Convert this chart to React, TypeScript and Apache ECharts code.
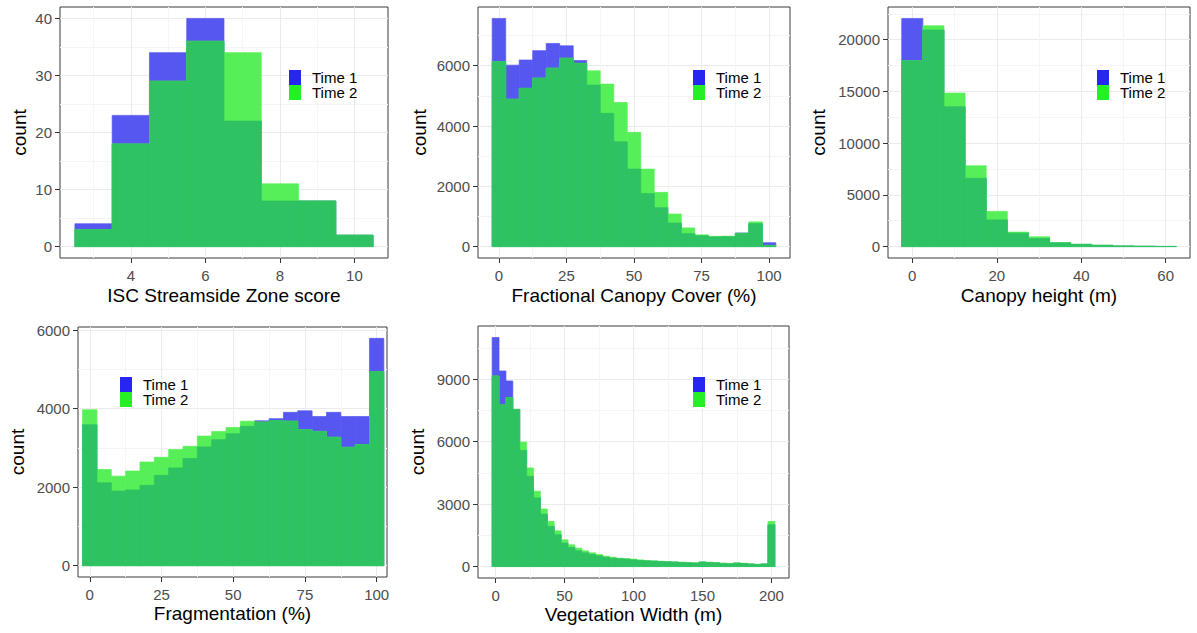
import React, { useEffect, useRef } from 'react';
import * as echarts from 'echarts';

// ---------- data ----------
const iscCenters = [3, 4, 5, 6, 7, 8, 9, 10];
const iscTime1 = [4, 23, 34, 40, 22, 8, 8, 2];
const iscTime2 = [3, 18, 29, 36, 34, 11, 8, 2];

const fccCenters = [0, 5, 10, 15, 20, 25, 30, 35, 40, 45, 50, 55, 60, 65, 70, 75, 80, 85, 90, 95, 100];
const fccTime1 = [7570, 6020, 6190, 6500, 6740, 6660, 6170, 5360, 4420, 3480, 2570, 1760, 1290, 780, 430, 360, 320, 330, 450, 760, 130];
const fccTime2 = [6140, 4890, 5250, 5590, 5920, 6250, 6080, 5830, 5390, 4780, 3790, 2570, 1800, 1080, 620, 390, 340, 345, 440, 820, 40];

const chCenters = [0, 5, 10, 15, 20, 25, 30, 35, 40, 45, 50, 55, 60];
const chTime1 = [22060, 20940, 13520, 6610, 2580, 1300, 780, 360, 210, 120, 60, 30, 15];
const chTime2 = [17970, 21350, 14840, 7810, 3400, 1400, 950, 390, 230, 130, 65, 30, 15];

const fragCenters = [0, 5, 10, 15, 20, 25, 30, 35, 40, 45, 50, 55, 60, 65, 70, 75, 80, 85, 90, 95, 100];
const fragTime1 = [3590, 2110, 1900, 1930, 2045, 2300, 2490, 2730, 3025, 3210, 3360, 3550, 3690, 3745, 3905, 3945, 3800, 3905, 3800, 3800, 5790];
const fragTime2 = [3970, 2450, 2280, 2410, 2640, 2760, 2960, 3040, 3300, 3420, 3520, 3680, 3660, 3695, 3680, 3465, 3420, 3270, 3015, 3085, 4945];

const vwCenters = [0, 5, 10, 15, 20, 25, 30, 35, 40, 45, 50, 55, 60, 65, 70, 75, 80, 85, 90, 95, 100, 105, 110, 115, 120, 125, 130, 135, 140, 145, 150, 155, 160, 165, 170, 175, 180, 185, 190, 195, 200];
const vwTime1 = [11010, 9400, 8920, 7550, 5580, 4340, 3300, 2520, 1930, 1530, 1125, 915, 755, 660, 580, 515, 450, 400, 370, 355, 320, 290, 270, 255, 240, 225, 210, 195, 178, 160, 210, 195, 175, 150, 135, 160, 145, 120, 100, 120, 2010];
const vwTime2 = [9160, 7770, 8120, 7560, 5980, 4740, 3620, 2765, 2170, 1720, 1285, 1045, 885, 755, 660, 580, 500, 450, 400, 385, 355, 320, 290, 270, 255, 240, 225, 210, 195, 178, 225, 210, 190, 160, 145, 178, 160, 130, 110, 130, 2170];

const seriesNames = ['Time 1', 'Time 2'];

const iscXTicks = [4, 6, 8, 10];
const iscXMinor = [3, 5, 7, 9];
const iscYTicks = [0, 10, 20, 30, 40];
const iscYMinor = [5, 15, 25, 35];

const pctXTicks = [0, 25, 50, 75, 100];
const pctXMinor = [12.5, 37.5, 62.5, 87.5];

const fccYTicks = [0, 2000, 4000, 6000];
const fccYMinor = [1000, 3000, 5000, 7000];

const chXTicks = [0, 20, 40, 60];
const chXMinor = [10, 30, 50];
const chYTicks = [0, 5000, 10000, 15000, 20000];
const chYMinor = [2500, 7500, 12500, 17500, 22500];

const fragYTicks = [0, 2000, 4000, 6000];
const fragYMinor = [1000, 3000, 5000];

const vwXTicks = [0, 50, 100, 150, 200];
const vwXMinor = [25, 75, 125, 175];
const vwYTicks = [0, 3000, 6000, 9000];
const vwYMinor = [1500, 4500, 7500, 10500];

// ---------- styles ----------
const FONT = 'Liberation Sans, Arial, Helvetica, sans-serif';
const BLUE_ONLY = '#5656f1';
const GREEN_ONLY = '#57ef57';
const OVERLAP = '#2ec263';
const LEG_BLUE = '#2626f0';
const LEG_GREEN = '#26ef26';

type Panel = {
  centers: number[];
  binWidth: number;
  t1: number[];
  t2: number[];
  xTitle: string;
  xTicks: number[];
  xMinor: number[];
  yTicks: number[];
  yMinor: number[];
  grid: { left: number; top: number; width: number; height: number };
  legend: { left: number; top: number };
  yNameGap: number;
  xNameGap: number;
  xRange?: [number, number];
};

const panels: Panel[] = [
  {
    centers: iscCenters, binWidth: 1, t1: iscTime1, t2: iscTime2,
    xTitle: 'ISC Streamside Zone score', xTicks: iscXTicks, xMinor: iscXMinor,
    yTicks: iscYTicks, yMinor: iscYMinor,
    grid: { left: 60, top: 7, width: 328, height: 251 },
    legend: { left: 289, top: 70 }, yNameGap: 31, xNameGap: 28,
  },
  {
    centers: fccCenters, binWidth: 5, t1: fccTime1, t2: fccTime2,
    xTitle: 'Fractional Canopy Cover (%)', xTicks: pctXTicks, xMinor: pctXMinor,
    yTicks: fccYTicks, yMinor: fccYMinor,
    grid: { left: 478, top: 7, width: 312, height: 251 },
    legend: { left: 693, top: 70 }, yNameGap: 49, xNameGap: 28,
  },
  {
    centers: chCenters, binWidth: 5, t1: chTime1, t2: chTime2,
    xTitle: 'Canopy height (m)', xTicks: chXTicks, xMinor: chXMinor,
    yTicks: chYTicks, yMinor: chYMinor,
    grid: { left: 888, top: 7, width: 302, height: 251 },
    legend: { left: 1097, top: 70 }, yNameGap: 60, xNameGap: 28,
  },
  {
    centers: fragCenters, binWidth: 5, t1: fragTime1, t2: fragTime2,
    xTitle: 'Fragmentation (%)', xTicks: pctXTicks, xMinor: pctXMinor,
    yTicks: fragYTicks, yMinor: fragYMinor,
    grid: { left: 78, top: 327, width: 309, height: 250 },
    legend: { left: 120, top: 377 }, yNameGap: 51, xNameGap: 27,
    xRange: [-4.1, 103.6],
  },
  {
    centers: vwCenters, binWidth: 5, t1: vwTime1, t2: vwTime2,
    xTitle: 'Vegetation Width (m)', xTicks: vwXTicks, xMinor: vwXMinor,
    yTicks: vwYTicks, yMinor: vwYMinor,
    grid: { left: 478, top: 326, width: 311, height: 252 },
    legend: { left: 693, top: 377 }, yNameGap: 51, xNameGap: 27,
  },
];

function makeRender(color: string) {
  return (params: any, api: any) => {
    const topLeft = api.coord([api.value(0), api.value(2)]);
    const bottomRight = api.coord([api.value(1), 0]);
    return {
      type: 'rect',
      shape: {
        x: topLeft[0],
        y: topLeft[1],
        width: bottomRight[0] - topLeft[0],
        height: bottomRight[1] - topLeft[1],
      },
      style: { fill: color, stroke: color, lineWidth: 0.7 },
    };
  };
}

function buildOption() {
  const grid: any[] = [];
  const xAxis: any[] = [];
  const yAxis: any[] = [];
  const series: any[] = [];
  const legend: any[] = [];

  panels.forEach((p, i) => {
    grid.push({
      ...p.grid,
      show: true,
      borderColor: '#3a3a3a',
      borderWidth: 1,
      backgroundColor: 'transparent',
      containLabel: false,
      outerBoundsMode: 'none',
    });
    const lo = p.centers[0] - p.binWidth / 2;
    const hi = p.centers[p.centers.length - 1] + p.binWidth / 2;
    const xr = p.xRange || [lo - 0.05 * (hi - lo), hi + 0.05 * (hi - lo)];
    const ymax = Math.max(...p.t1, ...p.t2);
    const yr = [-0.05 * ymax, 1.05 * ymax];

    xAxis.push({
      type: 'value', gridIndex: i, min: xr[0], max: xr[1], position: 'bottom',
      axisLine: { show: false, onZero: false },
      axisTick: { show: true, length: 5, lineStyle: { color: '#333', width: 1 }, customValues: p.xTicks },
      axisLabel: {
        customValues: p.xTicks, formatter: (v: number) => String(v),
        color: '#4d4d4d', fontSize: 15, margin: 10, fontFamily: FONT,
      },
      splitLine: { show: true, lineStyle: { color: '#ebebeb', width: 1 } },
      name: p.xTitle, nameLocation: 'middle', nameGap: p.xNameGap,
      nameTextStyle: { fontSize: 19, color: '#000', fontFamily: FONT },
    });
    xAxis.push({
      type: 'value', gridIndex: i, min: xr[0], max: xr[1], position: 'top',
      axisLine: { show: false, onZero: false },
      axisTick: { show: false, customValues: p.xMinor },
      axisLabel: { show: false, customValues: p.xMinor },
      splitLine: { show: true, lineStyle: { color: '#f5f5f5', width: 1 } },
    });
    yAxis.push({
      type: 'value', gridIndex: i, min: yr[0], max: yr[1], position: 'left',
      axisLine: { show: false, onZero: false },
      axisTick: { show: true, length: 5, lineStyle: { color: '#333', width: 1 }, customValues: p.yTicks },
      axisLabel: {
        customValues: p.yTicks, formatter: (v: number) => String(v),
        color: '#4d4d4d', fontSize: 15, margin: 8, fontFamily: FONT,
      },
      splitLine: { show: true, lineStyle: { color: '#ebebeb', width: 1 } },
      name: 'count', nameLocation: 'middle', nameGap: p.yNameGap, nameRotate: 90,
      nameTextStyle: { fontSize: 19, color: '#000', fontFamily: FONT },
    });
    yAxis.push({
      type: 'value', gridIndex: i, min: yr[0], max: yr[1], position: 'right',
      axisLine: { show: false, onZero: false },
      axisTick: { show: false, customValues: p.yMinor },
      axisLabel: { show: false, customValues: p.yMinor },
      splitLine: { show: true, lineStyle: { color: '#f5f5f5', width: 1 } },
    });

    const half = p.binWidth / 2;
    const d1 = p.centers.map((c, k) => [c - half, c + half, p.t1[k]]);
    const d2 = p.centers.map((c, k) => [c - half, c + half, p.t2[k]]);
    const dBoth = p.centers.map((c, k) => [c - half, c + half, Math.min(p.t1[k], p.t2[k])]);
    const common = {
      type: 'custom', xAxisIndex: 2 * i, yAxisIndex: 2 * i,
      encode: { x: [0, 1], y: 2 }, silent: true,
    };
    series.push({ ...common, name: seriesNames[0], itemStyle: { color: LEG_BLUE }, renderItem: makeRender(BLUE_ONLY), data: d1, z: 2 });
    series.push({ ...common, name: seriesNames[1], itemStyle: { color: LEG_GREEN }, renderItem: makeRender(GREEN_ONLY), data: d2, z: 3 });
    series.push({ ...common, name: 'overlap', itemStyle: { color: OVERLAP }, renderItem: makeRender(OVERLAP), data: dBoth, z: 4 });

    legend.push({
      left: p.legend.left, top: p.legend.top, orient: 'vertical',
      icon: 'rect', itemWidth: 12, itemHeight: 15, itemGap: 0, padding: 0,
      selectedMode: false,
      data: [
        { name: seriesNames[0], itemStyle: { color: LEG_BLUE } },
        { name: seriesNames[1], itemStyle: { color: LEG_GREEN } },
      ],
      textStyle: { fontSize: 15, color: '#000', fontFamily: FONT, lineHeight: 15, padding: [0, 0, 0, 6] },
    });
  });

  return {
    animation: false,
    backgroundColor: '#ffffff',
    grid, xAxis, yAxis, series, legend,
  };
}

export default function App() {
  const ref = useRef<HTMLDivElement>(null);
  useEffect(() => {
    if (!ref.current) return;
    const chart = echarts.init(ref.current, null, { renderer: 'svg' });
    chart.setOption(buildOption() as any);
    return () => chart.dispose();
  }, []);
  return (
    <div
      ref={ref}
      style={{ position: 'absolute', left: 0, top: 0, width: 1197, height: 633, background: '#fff' }}
    />
  );
}
